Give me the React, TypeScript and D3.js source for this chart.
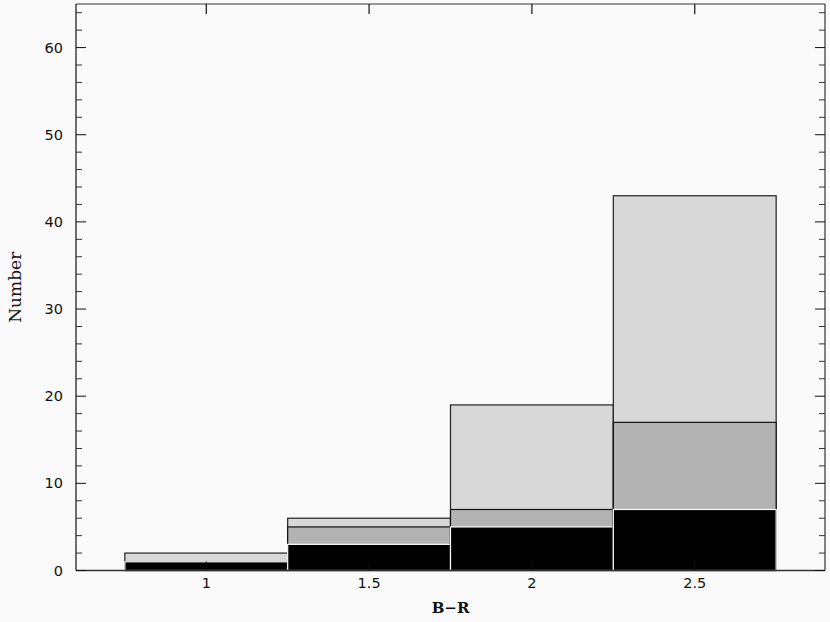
import React from "react";
import * as d3 from "d3";

const binStarts = [0.75, 1.25, 1.75, 2.25];
const binWidth = 0.5;
const totalCounts = [2, 6, 19, 43];
const midCounts = [1, 5, 7, 17];
const blackCounts = [1, 3, 5, 7];
const xTicks = [1, 1.5, 2, 2.5];
const yMajor = [0, 10, 20, 30, 40, 50, 60];

const W = 830;
const H = 622;
const L = 76, R = 825, T = 4, B = 570.5;

export default function App() {
  const x = d3.scaleLinear().domain([0.6, 2.9]).range([L, R]);
  const y = d3.scaleLinear().domain([0, 65]).range([B, T]);
  const yMinor = d3.range(0, 66, 2).filter((v) => v % 10 !== 0);
  const font = "'DejaVu Sans', sans-serif";

  const layers = [
    { data: totalCounts, fill: "#d8d8d8", stroke: "#222" },
    { data: midCounts, fill: "#b3b3b3", stroke: "#111" },
    { data: blackCounts, fill: "#000", stroke: "#fff" },
  ];

  return (
    <svg
      width={W}
      height={H}
      style={{ position: "absolute", left: 0, top: 0, background: "#fafafa" }}
    >
      <rect x={0} y={0} width={W} height={H} fill="#fafafa" />
      {binStarts.map((s, i) =>
        layers.map((ly, k) => (
          <rect
            key={`${i}-${k}`}
            x={x(s)}
            y={y(ly.data[i])}
            width={x(s + binWidth) - x(s)}
            height={y(0) - y(ly.data[i])}
            fill={ly.fill}
            stroke={ly.stroke}
            strokeWidth={1.2}
          />
        ))
      )}
      {/* frame */}
      <line x1={L} x2={R} y1={T} y2={T} stroke="#777" strokeWidth={1.5} />
      <line x1={L} x2={R} y1={B} y2={B} stroke="#333" strokeWidth={1.5} />
      <line x1={L} x2={L} y1={T} y2={B} stroke="#111" strokeWidth={1.2} />
      <line x1={R} x2={R} y1={T} y2={B} stroke="#333" strokeWidth={1.2} />
      {/* y ticks */}
      {yMajor.map((v) => (
        <g key={`ym${v}`}>
          <line x1={L} x2={L + 10} y1={y(v)} y2={y(v)} stroke="#111" strokeWidth={1} />
          <line x1={R} x2={R - 10} y1={y(v)} y2={y(v)} stroke="#111" strokeWidth={1} />
          <text
            x={63}
            y={y(v) + 5}
            textAnchor="end"
            fontFamily={font}
            fontSize={14.5}
            fill="#111"
          >
            {v}
          </text>
        </g>
      ))}
      {yMinor.map((v) => (
        <g key={`yn${v}`}>
          <line x1={L} x2={L + 6} y1={y(v)} y2={y(v)} stroke="#333" strokeWidth={1} />
          <line x1={R} x2={R - 6} y1={y(v)} y2={y(v)} stroke="#333" strokeWidth={1} />
        </g>
      ))}
      {/* x ticks */}
      {xTicks.map((v) => (
        <g key={`x${v}`}>
          <line x1={x(v)} x2={x(v)} y1={T} y2={T + 10} stroke="#111" strokeWidth={1.2} />
          <line x1={x(v)} x2={x(v)} y1={B} y2={B - 9} stroke="#111" strokeWidth={1} />
          <text
            x={x(v)}
            y={588}
            textAnchor="middle"
            fontFamily={font}
            fontSize={14.5}
            fill="#111"
          >
            {v}
          </text>
        </g>
      ))}
      <text
        x={(L + R) / 2}
        y={613}
        textAnchor="middle"
        fontFamily="'DejaVu Serif', serif"
        fontSize={15}
        fontWeight="bold"
        fill="#111"
      >
        B−R
      </text>
      <text
        transform={`translate(21, ${(T + B) / 2}) rotate(-90)`}
        textAnchor="middle"
        fontFamily="'DejaVu Serif', serif"
        fontSize={17}
        fill="#111"
      >
        Number
      </text>
    </svg>
  );
}
